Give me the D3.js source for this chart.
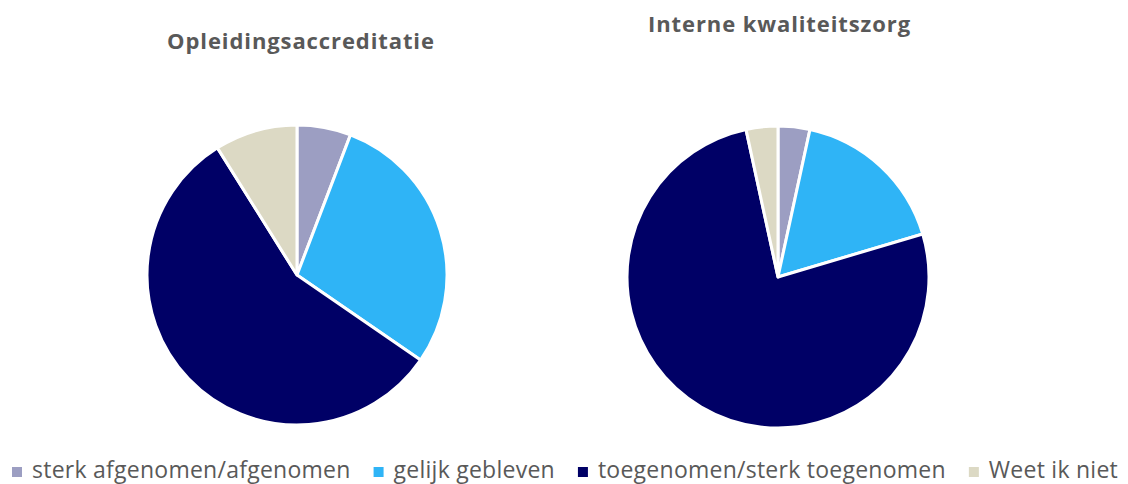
<!DOCTYPE html>
<html>
<head>
<meta charset="utf-8">
<script src="https://cdn.jsdelivr.net/npm/d3@7"></script>
<style>
  body { margin: 0; background: #fff; }
  svg { display: block; font-family: "Open Sans", "Noto Sans", sans-serif; }
</style>
</head>
<body>
<svg id="chart" width="1128" height="484"></svg>
<script>
// categories and colours
const categories = ["sterk afgenomen/afgenomen", "gelijk gebleven", "toegenomen/sterk toegenomen", "Weet ik niet"];
const colors = ["#9c9ec2", "#2fb4f6", "#000066", "#dcd9c4"];

// share per category (%)
const opleidingValues = [5.8, 28.8, 56.5, 8.9];
const interneValues = [3.4, 17.0, 76.2, 3.4];

const titles = ["Opleidingsaccreditatie", "Interne kwaliteitszorg"];

const svg = d3.select("#chart");
const color = d3.scaleOrdinal().domain(categories).range(colors);

const pie = d3.pie().sort(null).value(d => d.value);

function drawPie(values, cx, cy, r, title, titleX, titleY) {
    const data = categories.map((c, i) => ({ cat: c, value: values[i] }));
    const arc = d3.arc().innerRadius(0).outerRadius(r);
    const g = svg.append("g").attr("transform", "translate(" + cx + "," + cy + ")");
    g.selectAll("path")
        .data(pie(data))
        .enter()
        .append("path")
        .attr("d", arc)
        .attr("fill", d => color(d.data.cat))
        .attr("stroke", "#fff")
        .attr("stroke-width", 3)
        .attr("stroke-linejoin", "round");

    svg.append("text")
        .attr("x", titleX)
        .attr("y", titleY)
        .attr("text-anchor", "middle")
        .attr("font-size", 22)
        .attr("font-weight", "bold")
        .attr("letter-spacing", 0.9)
        .attr("fill", "#595959")
        .text(title);
}

drawPie(opleidingValues, 297, 275, 150, titles[0], 301, 48.5);
drawPie(interneValues, 778, 277, 151, titles[1], 779.5, 32);

// legend
const legend = svg.append("g");
let x = 12;
categories.forEach((c, i) => {
    legend.append("rect")
        .attr("x", x)
        .attr("y", 467)
        .attr("width", 10)
        .attr("height", 10)
        .attr("fill", color(c));
    const t = legend.append("text")
        .attr("x", x + 20)
        .attr("y", 478)
        .attr("font-size", 23)
        .attr("letter-spacing", 0.25)
        .attr("fill", "#595959")
        .text(c);
    x += 20 + t.node().getComputedTextLength() + 23;
});
</script>
</body>
</html>
